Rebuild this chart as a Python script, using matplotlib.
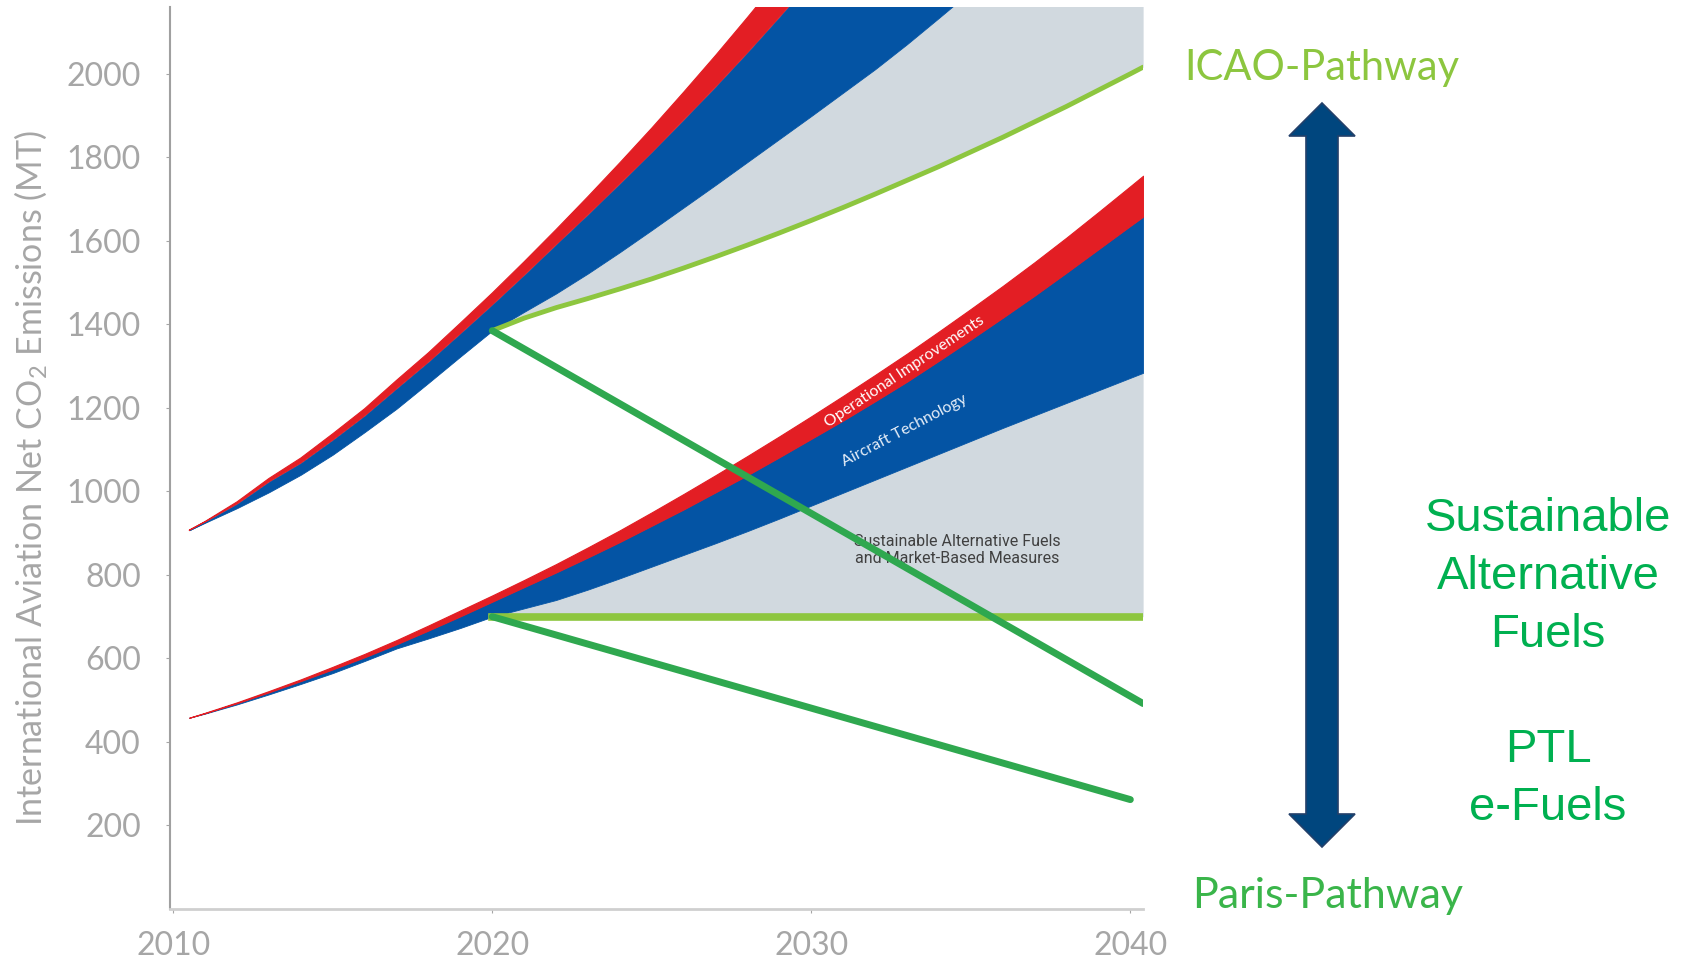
import matplotlib
matplotlib.use("Agg")
import matplotlib.pyplot as plt
from matplotlib.patches import Polygon

plt.rcParams['font.family'] = ['Lato', 'DejaVu Sans']
plt.rcParams['mathtext.fontset'] = 'custom'
plt.rcParams['mathtext.rm'] = 'Lato'

# DATA
years = [2010.5] + list(range(2011, 2041)) + [2040.4]

# upper fan (ICAO pathway), values above the frame are clipped
up_red_top = [907, 928, 975, 1031, 1080, 1138, 1198, 1266, 1332, 1403, 1475, 1550, 1627, 1706, 1787, 1870,
              1956, 2044, 2135, 2228, 2323, 2420, 2520, 2620, 2720, 2820, 2920, 3020, 3120, 3220, 3320, 3360]
up_red_blue = [907, 927, 970, 1023, 1068, 1123, 1181, 1246, 1310, 1378, 1447, 1518, 1591, 1663, 1737, 1812,
               1890, 1969, 2051, 2136, 2223, 2312, 2403, 2495, 2588, 2682, 2777, 2873, 2970, 3068, 3167, 3207]
up_blue_bot = [907, 925, 960, 998, 1040, 1088, 1142, 1198, 1260, 1323, 1385, 1430, 1474, 1522, 1573, 1626,
               1680, 1734, 1789, 1844, 1899, 1955, 2011, 2071, 2134, 2198, 2263, 2330, 2398, 2467, 2537, 2565]
icao_path = [1385, 1415, 1440, 1462, 1485, 1509, 1535, 1562, 1590, 1619, 1649, 1680, 1712, 1745, 1778, 1813,
             1848, 1885, 1922, 1961, 2000, 2016]  # 2020 onwards

# lower fan (carbon neutral growth from 2020)
lo_red_top = [458, 470, 495, 522, 550, 580, 611, 644, 679, 715, 751, 788, 826, 866, 907, 950,
              994, 1039, 1085, 1132, 1180, 1229, 1279, 1330, 1383, 1437, 1492, 1549, 1608, 1669, 1731, 1756]
lo_red_blue = [458, 469, 493, 519, 546, 574, 603, 634, 667, 701, 736, 771, 806, 842, 879, 918,
               957, 998, 1039, 1082, 1126, 1170, 1216, 1263, 1313, 1364, 1416, 1469, 1524, 1580, 1636, 1658]
lo_blue_bot = [458, 468, 490, 514, 539, 565, 594, 624, 648, 673, 700, 720, 740, 765, 792, 820,
               848, 876, 905, 935, 966, 997, 1028, 1059, 1090, 1121, 1152, 1182, 1212, 1242, 1272, 1284]
cng_level = 700

# paris pathways
paris_hi_years = [2020, 2040.4]
paris_hi = [1385, 492]
paris_lo_years = [2020, 2040]
paris_lo = [700, 262]

yticks = [200, 400, 600, 800, 1000, 1200, 1400, 1600, 1800, 2000]
xticks = [2010, 2020, 2030, 2040]

RED = '#e31e24'
BLUE = '#0454a4'
GRAY = '#d1d9df'
LIGHT_GREEN = '#8dc63f'
DARK_GREEN = '#2fa84f'
TICK_GRAY = '#a6a6a6'

fig = plt.figure(figsize=(16.87, 9.61), dpi=100)
ax = fig.add_axes([0.1008, 0.0541, 0.5768, 0.9386])

i20 = years.index(2020)
later = years[i20:]

# sustainable fuels / market based measures (gray)
ax.fill_between(later, icao_path, up_blue_bot[i20:], color=GRAY, lw=0, zorder=1)
ax.fill_between(later, [cng_level] * len(later), lo_blue_bot[i20:], color=GRAY, lw=0, zorder=1)

# aircraft technology (blue)
ax.fill_between(years, up_blue_bot, up_red_blue, color=BLUE, lw=0.6, ec=BLUE, zorder=2)
ax.fill_between(years, lo_blue_bot, lo_red_blue, color=BLUE, lw=0.6, ec=BLUE, zorder=2)

# operational improvements (red)
ax.fill_between(years, up_red_blue, up_red_top, color=RED, lw=0.8, ec=RED, zorder=3)
ax.fill_between(years, lo_red_blue, lo_red_top, color=RED, lw=0.8, ec=RED, zorder=3)

# pathways
ax.plot(later, icao_path, color=LIGHT_GREEN, lw=3.5, solid_capstyle='round', zorder=5)
ax.plot([later[0], later[-1]], [cng_level, cng_level], color=LIGHT_GREEN, lw=5.5, zorder=5)
ax.plot(paris_hi_years, paris_hi, color=DARK_GREEN, lw=5, solid_capstyle='round', zorder=6)
ax.plot(paris_lo_years, paris_lo, color=DARK_GREEN, lw=5, solid_capstyle='round', zorder=6)

ax.set_xlim(2009.9, 2040.4)
ax.set_ylim(0, 2160)
ax.set_xticks(xticks)
ax.set_yticks(yticks)
ax.tick_params(axis='y', colors=TICK_GRAY, labelsize=23, length=3, pad=18)
ax.tick_params(axis='x', colors=TICK_GRAY, labelsize=23, length=3, pad=13)
for s in ['top', 'right']:
    ax.spines[s].set_visible(False)
ax.spines['left'].set_color('#a0a0a0')
ax.spines['left'].set_linewidth(1.5)
ax.spines['bottom'].set_color('#cfcfcf')
ax.spines['bottom'].set_linewidth(2)

ax.set_ylabel('International Aviation Net CO$_\\mathrm{2}$ Emissions (MT)', fontsize=24.5,
              color=TICK_GRAY, va='center')
ax.yaxis.set_label_coords(-0.143, 0.478)

# annotations in pixel space
ov = fig.add_axes([0, 0, 1, 1], zorder=2)
ov.set_xlim(0, 1687)
ov.set_ylim(961, 0)
ov.axis('off')

ov.text(905, 372, 'Operational Improvements', fontsize=11.5, color='white',
        rotation=33.8, rotation_mode='anchor', ha='center', va='center')
ov.text(904, 431, 'Aircraft Technology', fontsize=11.5, color='#e6eef8',
        rotation=27.6, rotation_mode='anchor', ha='center', va='center')

cx, top, bot = 1322, 103, 847
hw, sw, hl = 33, 16, 33
arrow = [(cx, top), (cx + hw, top + hl), (cx + sw, top + hl), (cx + sw, bot - hl),
         (cx + hw, bot - hl), (cx, bot), (cx - hw, bot - hl), (cx - sw, bot - hl),
         (cx - sw, top + hl), (cx - hw, top + hl)]
ov.add_patch(Polygon(arrow, closed=True, fc='#00467e', ec='#23406a', lw=1.2))

ov.text(1184, 80, 'ICAO-Pathway', fontsize=30, color='#8cc63f', ha='left', va='baseline')
ov.text(1192, 908, 'Paris-Pathway', fontsize=31, color='#3ab54a', ha='left', va='baseline')
ov.text(1548, 820, 'Sustainable\nAlternative\nFuels\n\nPTL\ne-Fuels', fontsize=34,
        family='Liberation Sans', color='#00b050', ha='center', va='baseline',
        linespacing=1.405)

# label of gray area sits under the paris line
ax.text(957, 961 - 550, 'Sustainable Alternative Fuels\nand Market-Based Measures', transform=None,
        fontsize=11.5, color='#404040', family='Roboto', ha='center', va='center',
        linespacing=1.1, zorder=4)

fig.savefig('out.png', dpi=100)
